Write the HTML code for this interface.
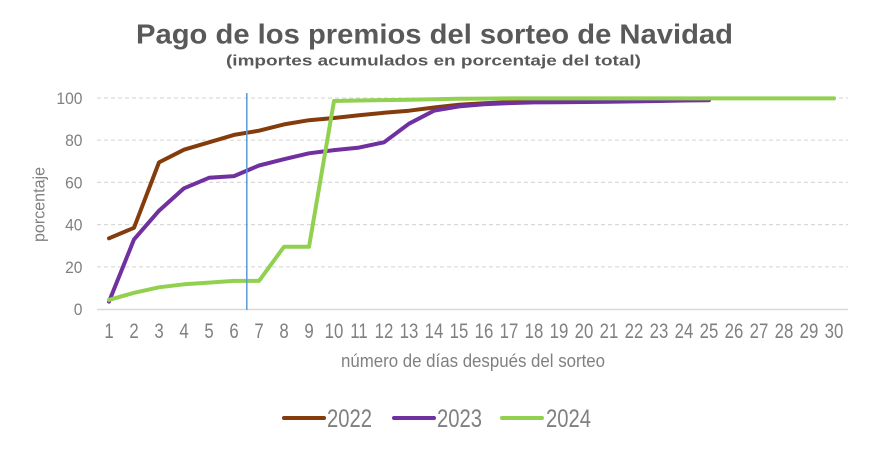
<!DOCTYPE html>
<html>
<head>
<meta charset="utf-8">
<style>
  html,body{margin:0;padding:0;background:#fff;}
  svg{display:block;}
  text{font-family:"Liberation Sans",Arial,sans-serif;}
</style>
</head>
<body>
<svg width="870" height="450" viewBox="0 0 870 450" xmlns="http://www.w3.org/2000/svg">
  <rect width="870" height="450" fill="#fff"/>

  <!-- Title -->
  <text x="136" y="43.5" font-size="28" font-weight="bold" fill="#595959" textLength="597" lengthAdjust="spacingAndGlyphs">Pago de los premios del sorteo de Navidad</text>
  <text x="226" y="65.5" font-size="14.5" font-weight="bold" fill="#595959" textLength="415" lengthAdjust="spacingAndGlyphs">(importes acumulados en porcentaje  del total)</text>

  <!-- Gridlines -->
  <g stroke="#d9d9d9" stroke-width="1.2" stroke-dasharray="4 3">
    <line x1="97" y1="98" x2="848" y2="98"/>
    <line x1="97" y1="140.2" x2="848" y2="140.2"/>
    <line x1="97" y1="182.4" x2="848" y2="182.4"/>
    <line x1="97" y1="224.6" x2="848" y2="224.6"/>
    <line x1="97" y1="266.8" x2="848" y2="266.8"/>
  </g>
  <line x1="97" y1="309.5" x2="848" y2="309.5" stroke="#d9d9d9" stroke-width="1.5"/>

  <!-- Y labels -->
  <g transform="scale(0.92 1)" font-size="17" fill="#808080" text-anchor="end">
    <text x="89.7" y="104">100</text>
    <text x="89.7" y="146.2">80</text>
    <text x="89.7" y="188.4">60</text>
    <text x="89.7" y="230.6">40</text>
    <text x="89.7" y="272.8">20</text>
    <text x="89.7" y="315">0</text>
  </g>

  <!-- Y title -->
  <text transform="translate(44.5 204.5) rotate(-90)" font-size="17" fill="#808080" text-anchor="middle" textLength="75" lengthAdjust="spacingAndGlyphs">porcentaje</text>

  <!-- X labels -->
  <g transform="scale(0.8 1)" font-size="21" fill="#808080" text-anchor="middle">
    <text x="136.25" y="338">1</text>
    <text x="167.5" y="338">2</text>
    <text x="198.75" y="338">3</text>
    <text x="230" y="338">4</text>
    <text x="261.25" y="338">5</text>
    <text x="292.5" y="338">6</text>
    <text x="323.75" y="338">7</text>
    <text x="355" y="338">8</text>
    <text x="386.25" y="338">9</text>
    <text x="417.5" y="338">10</text>
    <text x="448.75" y="338">11</text>
    <text x="480" y="338">12</text>
    <text x="511.25" y="338">13</text>
    <text x="542.5" y="338">14</text>
    <text x="573.75" y="338">15</text>
    <text x="605" y="338">16</text>
    <text x="636.25" y="338">17</text>
    <text x="667.5" y="338">18</text>
    <text x="698.75" y="338">19</text>
    <text x="730" y="338">20</text>
    <text x="761.25" y="338">21</text>
    <text x="792.5" y="338">22</text>
    <text x="823.75" y="338">23</text>
    <text x="855" y="338">24</text>
    <text x="886.25" y="338">25</text>
    <text x="917.5" y="338">26</text>
    <text x="948.75" y="338">27</text>
    <text x="980" y="338">28</text>
    <text x="1011.25" y="338">29</text>
    <text x="1042.5" y="338">30</text>
  </g>

  <!-- X title -->
  <text x="341" y="367" font-size="18" fill="#808080" textLength="264" lengthAdjust="spacingAndGlyphs">número de días después del sorteo</text>

  <!-- Series -->
  <g fill="none" stroke-width="4" stroke-linejoin="round" stroke-linecap="round">
    <polyline stroke="#843C0C" points="109,238.3 134,227.8 159,162.4 184,149.7 209,142.3 234,134.9 259,130.7 284,124.4 309,120.2 334,118 359,115.3 384,112.8 409,110.7 434,107.5 459,104.8 484,103.3 509,102.2 534,101.6 559,101.2 584,101 609,100.7 634,100.5 659,100.3 684,100.1 709,100.1"/>
    <polyline stroke="#7030A0" points="109,301.6 134,239.4 159,210.7 184,188.3 209,177.8 234,176.1 259,165.5 284,159.2 309,153.3 334,150.1 359,147.6 384,142.3 409,123.7 434,110.7 459,106.4 484,104.3 509,103.1 534,102.4 559,102.2 584,102 609,101.8 634,101.4 659,101 684,100.5 709,100.1"/>
    <polyline stroke="#92D050" points="109,299.9 134,292.8 159,287.3 184,284.3 209,282.6 234,280.9 259,280.9 284,246.8 309,246.8 334,101 359,100.5 384,100.1 409,99.7 434,99.3 459,98.8 484,98.6 509,98.4 534,98.4 559,98.4 584,98.4 609,98.4 634,98.4 659,98.4 684,98.4 709,98.4 734,98.4 759,98.4 784,98.4 809,98.4 834,98.4"/>
  </g>

  <!-- Vertical marker -->
  <line x1="246.8" y1="93" x2="246.8" y2="310" stroke="#5B9BD5" stroke-width="1.5"/>

  <!-- Legend -->
  <g stroke-width="4" stroke-linecap="round">
    <line x1="284" y1="418" x2="324" y2="418" stroke="#843C0C"/>
    <line x1="394" y1="418" x2="434" y2="418" stroke="#7030A0"/>
    <line x1="502" y1="418" x2="542" y2="418" stroke="#92D050"/>
  </g>
  <g font-size="25" fill="#808080">
    <text x="327" y="427" textLength="45" lengthAdjust="spacingAndGlyphs">2022</text>
    <text x="437" y="427" textLength="45" lengthAdjust="spacingAndGlyphs">2023</text>
    <text x="546" y="427" textLength="45" lengthAdjust="spacingAndGlyphs">2024</text>
  </g>
</svg>
</body>
</html>
